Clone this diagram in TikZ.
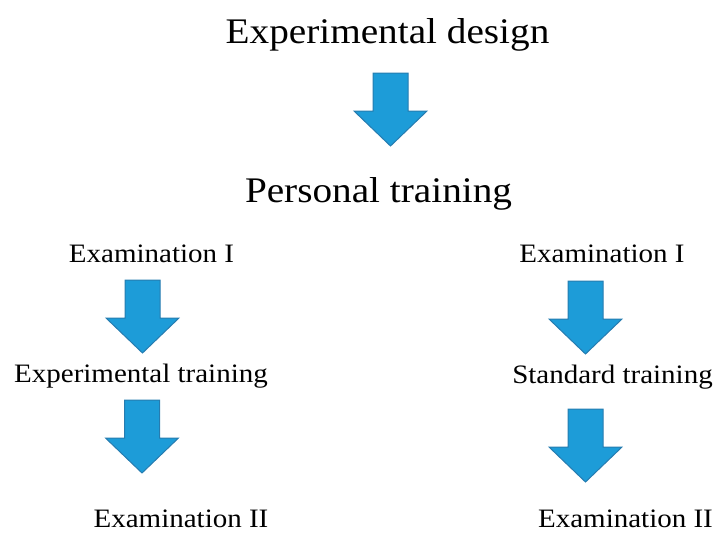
\documentclass[tikz,border=0pt]{standalone}
\usepackage{fontspec}
\setmainfont[FakeStretch=1.09]{Liberation Serif}
\definecolor{arrowfill}{RGB}{29,156,216}
\definecolor{arrowedge}{RGB}{38,124,176}
\begin{document}
\begin{tikzpicture}[x=1pt,y=-1pt,
  big/.style={font=\fontsize{36}{40}\selectfont, inner sep=0pt, anchor=base},
  small/.style={font=\fontsize{26.6}{30}\selectfont, inner sep=0pt, anchor=base},
  blockarrow/.pic={
    \draw[fill=arrowfill, draw=arrowedge, line width=1pt, line join=miter]
      (-17.5,0) -- (17.5,0) -- (17.5,38) -- (36.5,38) -- (0,73)
      -- (-36.5,38) -- (-17.5,38) -- cycle;
  }]
\useasboundingbox (0,0) rectangle (716,533);

% headings
\node[big] (design) at (387.5,43) {Experimental design};
\node[big] (personal) at (378.5,202) {Personal training};

% left branch
\node[small] (examIL) at (151.5,262) {Examination I};
\node[small] (exptrain) at (141,382) {Experimental training};
\node[small] (examIIL) at (181,527) {Examination II};

% right branch
\node[small] (examIR) at (602,262) {Examination I};
\node[small] (stdtrain) at (612.5,383) {Standard training};
\node[small] (examIIR) at (625.5,527) {Examination II};

% block arrows
\pic at (390.5,73) {blockarrow};
\pic at (142.5,280) {blockarrow};
\pic at (142,400) {blockarrow};
\pic at (585.5,281) {blockarrow};
\pic at (585.5,409) {blockarrow};
\end{tikzpicture}
\end{document}
